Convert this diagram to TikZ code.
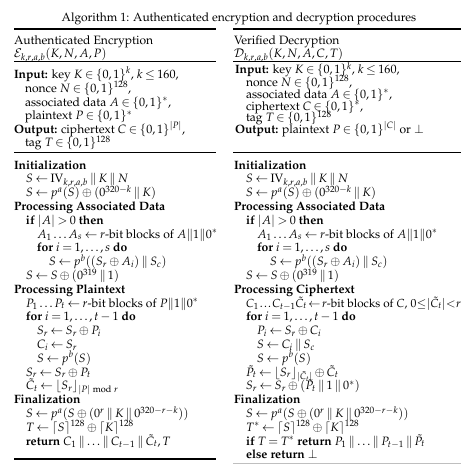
\documentclass[tikz,border=0pt]{standalone}
\usepackage[T1]{fontenc}
\usepackage{mathpazo}
\newcommand{\cc}{\mathbin{\|}}
\newcommand{\tightmath}{\thickmuskip=3.5mu plus 2mu\medmuskip=3mu plus 1mu\thinmuskip=2.5mu\relax}
\newcommand{\squeezemath}{\fontsize{11.7}{14}\selectfont\thickmuskip=2mu\relax\medmuskip=2mu\relax\thinmuskip=1.5mu\relax}
\tikzset{
  ln/.style={anchor=base west, inner sep=0pt, outer sep=0pt, font=\fontsize{12.1}{14}\selectfont\tightmath},
  lnsq/.style={anchor=base west, inner sep=0pt, outer sep=0pt, font=\squeezemath},
  ttl/.style={anchor=base, inner sep=0pt, font=\fontsize{12.0}{14}\selectfont},
  heavyrule/.style={line width=1.1pt},
  midrule/.style={line width=0.75pt},
}
\begin{document}
\begin{tikzpicture}[x=1pt,y=-1pt]
\useasboundingbox (0,0) rectangle (461,464);
% title
\node[ttl] (title) at (239,21) {Algorithm 1: Authenticated encryption and decryption procedures};
% rules
\coordinate (la) at (14,29); \coordinate (lb) at (216,29);
\coordinate (ra) at (233,29); \coordinate (rb) at (461,29);
\draw[heavyrule] (la) -- (lb); \draw[heavyrule] (ra) -- (rb);
\coordinate (lc) at (14,61.5); \coordinate (ld) at (216,61.5);
\coordinate (rc) at (233,61.5); \coordinate (rd) at (461,61.5);
\draw[midrule] (lc) -- (ld); \draw[midrule] (rc) -- (rd);
\coordinate (le) at (14,152.5); \coordinate (lf) at (216,152.5);
\coordinate (re) at (233,152.5); \coordinate (rf) at (461,152.5);
\draw[midrule] (le) -- (lf); \draw[midrule] (re) -- (rf);
\coordinate (lg) at (14,459); \coordinate (lh) at (216,459);
\draw[heavyrule] (lg) -- (lh);
\coordinate (rg) at (233,463); \coordinate (rh) at (461,463);
\draw[midrule, gray!50] (rg) -- (rh);
% headings
\node[ln] (lhead) at (14,44) {Authenticated Encryption};
\node[ln] (lsig) at (14,57.5) {$\mathcal{E}_{k,r,a,b}(K,N,A,P)$};
\node[ln] (rhead) at (234,44) {Verified Decryption};
\node[ln] (rsig) at (234,57.5) {$\mathcal{D}_{k,r,a,b}(K,N,A,C,T)$};
% left io
\node[ln] (li1) at (14,78) {\textbf{Input:} key $K\in\{0,1\}^k$, $k\le 160$,};
\node[ln] (li2) at (25,92) {nonce $N\in\{0,1\}^{128}$,};
\node[ln] (li3) at (25,106) {associated data $A\in\{0,1\}^*$,};
\node[ln] (li4) at (25,119.5) {plaintext $P\in\{0,1\}^*$};
\node[ln] (li5) at (14,133) {\textbf{Output:} ciphertext $C\in\{0,1\}^{|P|}$,};
\node[ln] (li6) at (25,146.5) {tag $T\in\{0,1\}^{128}$};
% right io
\node[ln] (ri1) at (235,73.5) {\textbf{Input:} key $K\in\{0,1\}^k$, $k\le 160$,};
\node[ln] (ri2) at (246,86) {nonce $N\in\{0,1\}^{128}$,};
\node[ln] (ri3) at (246,98) {associated data $A\in\{0,1\}^*$,};
\node[ln] (ri4) at (246,110) {ciphertext $C\in\{0,1\}^*$,};
\node[ln] (ri5) at (246,121.5) {tag $T\in\{0,1\}^{128}$};
\node[ln] (ri6) at (235,133) {\textbf{Output:} plaintext $P\in\{0,1\}^{|C|}$ or $\bot$};
% left body
\node[ln] (l0) at (14,169) {\textbf{Initialization}};
\node[ln] (l1) at (26,182.8) {$S\leftarrow \mathrm{IV}_{k,r,a,b}\cc K\cc N$};
\node[ln] (l2) at (26,196.6) {$S\leftarrow p^a(S)\oplus(0^{320-k}\cc K)$};
\node[ln] (l3) at (14,210.4) {\textbf{Processing Associated Data}};
\node[ln] (l4) at (26,224.2) {\textbf{if} $|A|>0$ \textbf{then}};
\node[ln] (l5) at (37,238) {$A_1\ldots A_s\leftarrow r$-bit blocks of $A\|1\|0^*$};
\node[ln] (l6) at (37,251.8) {\textbf{for} $i=1,\ldots,s$ \textbf{do}};
\node[ln] (l7) at (49,265.6) {$S\leftarrow p^b((S_r\oplus A_i)\cc S_c)$};
\node[ln] (l8) at (26,279.4) {$S\leftarrow S\oplus(0^{319}\cc 1)$};
\node[ln] (l9) at (14,293.2) {\textbf{Processing Plaintext}};
\node[ln] (l10) at (26,307) {$P_1\ldots P_t\leftarrow r$-bit blocks of $P\|1\|0^*$};
\node[ln] (l11) at (26,320.8) {\textbf{for} $i=1,\ldots,t-1$ \textbf{do}};
\node[ln] (l12) at (37,334.6) {$S_r\leftarrow S_r\oplus P_i$};
\node[ln] (l13) at (37,348.4) {$C_i\leftarrow S_r$};
\node[ln] (l14) at (37,362.2) {$S\leftarrow p^b(S)$};
\node[ln] (l15) at (26,376) {$S_r\leftarrow S_r\oplus P_t$};
\node[ln] (l16) at (26,389.8) {$\tilde{C}_t\leftarrow \lfloor S_r\rfloor_{|P|\bmod r}$};
\node[ln] (l17) at (14,403.6) {\textbf{Finalization}};
\node[ln] (l18) at (26,417.4) {$S\leftarrow p^a(S\oplus(0^r\cc K\cc 0^{320-r-k}))$};
\node[ln] (l19) at (26,431.2) {$T\leftarrow \lceil S\rceil^{128}\oplus\lceil K\rceil^{128}$};
\node[ln] (l20) at (26,445) {\textbf{return} $C_1\cc\ldots\cc C_{t-1}\cc\tilde{C}_t,T$};
% right body
\node[ln] (r0) at (234,169) {\textbf{Initialization}};
\node[ln] (r1) at (246,182.8) {$S\leftarrow \mathrm{IV}_{k,r,a,b}\cc K\cc N$};
\node[ln] (r2) at (246,196.6) {$S\leftarrow p^a(S)\oplus(0^{320-k}\cc K)$};
\node[ln] (r3) at (234,210.4) {\textbf{Processing Associated Data}};
\node[ln] (r4) at (246,224.2) {\textbf{if} $|A|>0$ \textbf{then}};
\node[ln] (r5) at (257,238) {$A_1\ldots A_s\leftarrow r$-bit blocks of $A\|1\|0^*$};
\node[ln] (r6) at (257,251.8) {\textbf{for} $i=1,\ldots,s$ \textbf{do}};
\node[ln] (r7) at (270,265.6) {$S\leftarrow p^b((S_r\oplus A_i)\cc S_c)$};
\node[ln] (r8) at (246,279.4) {$S\leftarrow S\oplus(0^{319}\cc 1)$};
\node[ln] (r9) at (234,293.2) {\textbf{Processing Ciphertext}};
\node[lnsq] (r10) at (246,307) {$C_1\ldots C_{t-1}\tilde{C}_t\leftarrow r$-bit blocks of $C$, $0\!\le\!|\tilde{C}_t|\!<\!r$};
\node[ln] (r11) at (246,320.8) {\textbf{for} $i=1,\ldots,t-1$ \textbf{do}};
\node[ln] (r12) at (257,334.6) {$P_i\leftarrow S_r\oplus C_i$};
\node[ln] (r13) at (257,348.4) {$S\leftarrow C_i\cc S_c$};
\node[ln] (r14) at (257,362.2) {$S\leftarrow p^b(S)$};
\node[ln] (r15) at (246,376) {$\tilde{P}_t\leftarrow \lfloor S_r\rfloor_{|\tilde{C}_t|}\oplus\tilde{C}_t$};
\node[ln] (r16) at (246,389.8) {$S_r\leftarrow S_r\oplus(\tilde{P}_t\cc 1\cc 0^*)$};
\node[ln] (r17) at (234,403.6) {\textbf{Finalization}};
\node[ln] (r18) at (246,417.4) {$S\leftarrow p^a(S\oplus(0^r\cc K\cc 0^{320-r-k}))$};
\node[ln] (r19) at (246,431.2) {$T^*\leftarrow \lceil S\rceil^{128}\oplus\lceil K\rceil^{128}$};
\node[ln] (r20) at (246,445) {\textbf{if} $T=T^*$ \textbf{return} $P_1\cc\ldots\cc P_{t-1}\cc\tilde{P}_t$};
\node[ln] (r21) at (246,458.8) {\textbf{else return} $\bot$};
\end{tikzpicture}
\end{document}
